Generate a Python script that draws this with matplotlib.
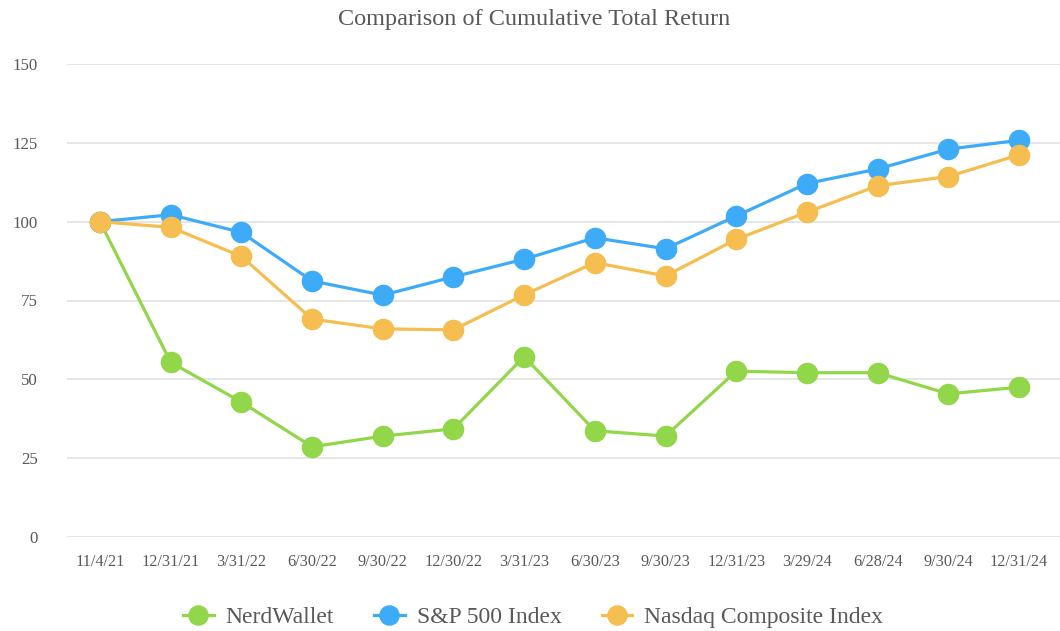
import matplotlib
matplotlib.use("Agg")
import matplotlib.pyplot as plt

# Значения
dates = ["11/4/21", "12/31/21", "3/31/22", "6/30/22", "9/30/22", "12/30/22",
         "3/31/23", "6/30/23", "9/30/23", "12/31/23", "3/29/24", "6/28/24",
         "9/30/24", "12/31/24"]
nerdwallet = [100, 55.4, 42.8, 28.6, 32.0, 34.3, 57.2, 33.7, 32.0, 52.6,
              52.1, 52.1, 45.4, 47.5]
sp500 = [100, 102.2, 96.6, 81.2, 76.7, 82.5, 88.1, 94.9, 91.4, 101.8,
         112.1, 116.7, 123.0, 125.8]
nasdaq = [100, 98.2, 89.0, 69.1, 66.0, 65.7, 76.8, 87.0, 82.8, 94.4,
          103.0, 111.4, 114.3, 121.2]
yticks = [0, 25, 50, 75, 100, 125, 150]

plt.rcParams["font.family"] = ["Liberation Serif", "DejaVu Serif"]

W, H = 1060, 631
fig = plt.figure(figsize=(W / 100, H / 100), dpi=100)
ax = fig.add_axes([67 / W, (H - 537) / H, (W - 67) / W, (537 - 64) / H])

x = list(range(len(dates)))
series = [
    (nerdwallet, "#92D64A", "NerdWallet"),
    (sp500, "#3EABF9", "S&P 500 Index"),
    (nasdaq, "#F6BD50", "Nasdaq Composite Index"),
]
for vals, color, label in series:
    ax.plot(x, vals, color=color, linewidth=2.3, marker="o", markersize=14.5,
            label=label, clip_on=False, zorder=3)

ax.set_ylim(0, 150)
ax.set_yticks(yticks)
ax.set_xlim(-0.467, 13.58)
ax.set_xticks(x)
ax.set_xticklabels(dates)
ax.grid(axis="y", color="#E6E6E6", linewidth=1.4)
ax.set_axisbelow(True)
for s in ax.spines.values():
    s.set_visible(False)
ax.tick_params(axis="both", length=0, labelcolor="#595959", labelsize=11.7)
ax.tick_params(axis="x", pad=12)
ax.tick_params(axis="y", pad=21, labelsize=12.2)

fig.text(0.5 + 4 / W, 1 - 19 / H, "Comparison of Cumulative Total Return",
         ha="center", va="center", fontsize=17.5, color="#595959")

fig.legend(loc="center", bbox_to_anchor=(533 / W, 1 - 617 / H), ncol=3,
           frameon=False, fontsize=17, labelcolor="#595959", markerscale=0.95,
           handlelength=1.3, handletextpad=0.5, columnspacing=1.7)

fig.savefig("out.png", dpi=100)
